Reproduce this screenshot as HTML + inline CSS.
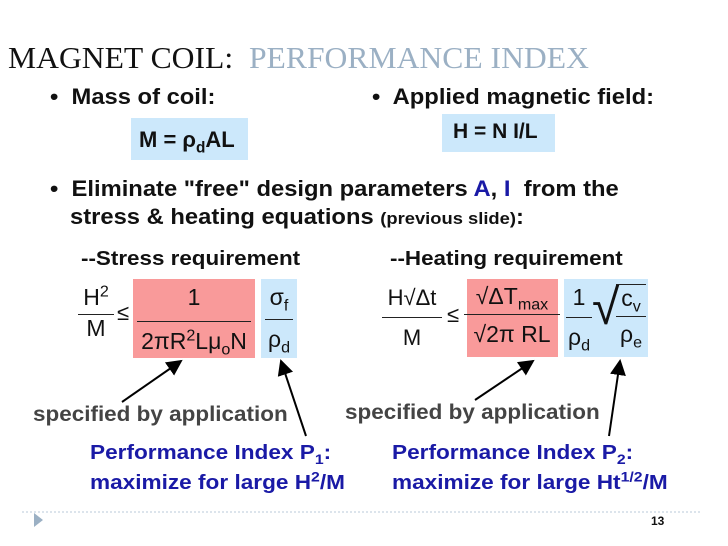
<!DOCTYPE html>
<html><head><meta charset="utf-8"><style>
body{margin:0;background:#fff}
#s{position:relative;width:728px;height:546px;overflow:hidden;font-family:"Liberation Sans",Arial,sans-serif;color:#111}
.a{position:absolute;white-space:nowrap}
.b{font-weight:bold}
.c{transform-origin:0 0;transform:scaleX(1.08)}
.box{position:absolute}
sub,sup{font-size:70%;line-height:0}
</style></head><body>
<div id="s">
<div class="a" style="left:8px;top:40px;font-family:'Liberation Serif',serif;font-size:31px;color:#111;transform-origin:0 0;transform:scaleX(1.02)">MAGNET COIL:&nbsp; <span style="color:#9bb0c4">PERFORMANCE INDEX</span></div>

<div class="a b c" style="left:50px;top:84px;font-size:22px">•&nbsp; Mass of coil:</div>
<div class="a b c" style="left:372px;top:84px;font-size:22px">•&nbsp; Applied magnetic field:</div>
<div class="box" style="left:131px;top:118px;width:117px;height:42px;background:#cce8fb"></div>
<div class="a b" style="left:139px;top:127px;font-size:22px">M = ρ<sub>d</sub>AL</div>
<div class="box" style="left:442px;top:114px;width:113px;height:38px;background:#cce8fb"></div>
<div class="a b" style="left:453px;top:120px;font-size:21px">H = N I/L</div>

<div class="a b c" style="left:50px;top:176px;font-size:22px">•&nbsp; Eliminate "free" design parameters <span style="color:#1a1aa6">A</span>, <span style="color:#1a1aa6">I</span>&nbsp; from the</div>
<div class="a b c" style="left:70px;top:204px;font-size:22px">stress &amp; heating equations <span style="font-size:17px">(previous slide)</span>:</div>

<div class="a b" style="left:81px;top:248px;font-size:20px;transform-origin:0 0;transform:scaleX(1.12)">--Stress requirement</div>
<div class="a b" style="left:390px;top:248px;font-size:20px;transform-origin:0 0;transform:scaleX(1.12)">--Heating requirement</div>

<!-- stress -->
<div class="box" style="left:133px;top:279px;width:122px;height:79px;background:#f99a9a"></div>
<div class="box" style="left:261px;top:279px;width:36px;height:79px;background:#cce8fb"></div>
<div class="a" style="left:78px;top:284px;font-size:23px;text-align:center;width:36px;line-height:27px">H<sup>2</sup><div style="border-top:1.5px solid #222;margin-top:3px"></div>M</div>
<div class="a" style="left:117px;top:300px;font-size:22px">≤</div>
<div class="a" style="left:133px;top:284px;font-size:23px;text-align:center;width:122px;line-height:27px">1<div style="border-top:1.5px solid #222;margin:10px 4px 6px"></div>2πR<sup>2</sup>Lμ<sub>o</sub>N</div>
<div class="a" style="left:261px;top:284px;font-size:23px;text-align:center;width:36px;line-height:27px">σ<sub>f</sub><div style="border-top:1.5px solid #222;margin:8px 4px 6px"></div>ρ<sub>d</sub></div>

<!-- heating -->
<div class="box" style="left:467px;top:279px;width:91px;height:78px;background:#f99a9a"></div>
<div class="box" style="left:564px;top:279px;width:84px;height:78px;background:#cce8fb"></div>
<div class="a" style="left:382px;top:284px;font-size:22px;text-align:center;width:60px;line-height:27px">H√Δt<div style="border-top:1.5px solid #222;margin:6px 0 6px"></div>M</div>
<div class="a" style="left:447px;top:302px;font-size:22px">≤</div>
<div class="a" style="left:464px;top:283px;font-size:23px;text-align:center;width:96px;line-height:27px">√ΔT<sub>max</sub><div style="border-top:1.5px solid #222;margin:4px 0 6px"></div>√2π RL</div>
<div class="a" style="left:566px;top:284px;font-size:23px;width:80px;line-height:27px">
<div style="position:absolute;left:0;width:26px;text-align:center">1<div style="border-top:1.5px solid #222;margin:6px 0 6px"></div>ρ<sub>d</sub></div>
<div style="position:absolute;left:26px;top:-2px;font-size:50px;line-height:1">√</div>
<div style="position:absolute;left:50px;width:30px;text-align:center;border-top:1.5px solid #222">c<sub>v</sub><div style="border-top:1.5px solid #222;margin:4px 0 4px"></div>ρ<sub>e</sub></div>
</div>

<svg class="a" style="left:0;top:0" width="728" height="546">
<defs><marker id="ah" markerWidth="8" markerHeight="8" refX="7" refY="4" orient="auto"><path d="M0,0 L8,4 L0,8z" fill="#000"/></marker></defs>
<line x1="122" y1="402" x2="181" y2="361" stroke="#000" stroke-width="2" marker-end="url(#ah)"/>
<line x1="306" y1="436" x2="281" y2="361" stroke="#000" stroke-width="2" marker-end="url(#ah)"/>
<line x1="475" y1="400" x2="533" y2="361" stroke="#000" stroke-width="2" marker-end="url(#ah)"/>
<line x1="609" y1="436" x2="620" y2="361" stroke="#000" stroke-width="2" marker-end="url(#ah)"/>
<line x1="22" y1="512" x2="700" y2="512" stroke="#b8c8d8" stroke-width="1" stroke-dasharray="2,2"/>
<path d="M34,513 L43,520 L34,527z" fill="#9bb0c4"/>
</svg>

<div class="a b" style="left:33px;top:403px;font-size:21px;color:#444;transform-origin:0 0;transform:scaleX(1.07)">specified by application</div>
<div class="a b" style="left:345px;top:401px;font-size:21px;color:#444;transform-origin:0 0;transform:scaleX(1.07)">specified by application</div>
<div class="a b" style="left:90px;top:438px;font-size:20px;color:#1a1aa6;line-height:30px;transform-origin:0 0;transform:scaleX(1.13)">Performance Index P<sub>1</sub>:<br>maximize for large H<sup>2</sup>/M</div>
<div class="a b" style="left:392px;top:438px;font-size:20px;color:#1a1aa6;line-height:30px;transform-origin:0 0;transform:scaleX(1.13)">Performance Index P<sub>2</sub>:<br>maximize for large Ht<sup>1/2</sup>/M</div>
<div class="a b" style="left:651px;top:514px;font-size:12px">13</div>
</div>
</body></html>
